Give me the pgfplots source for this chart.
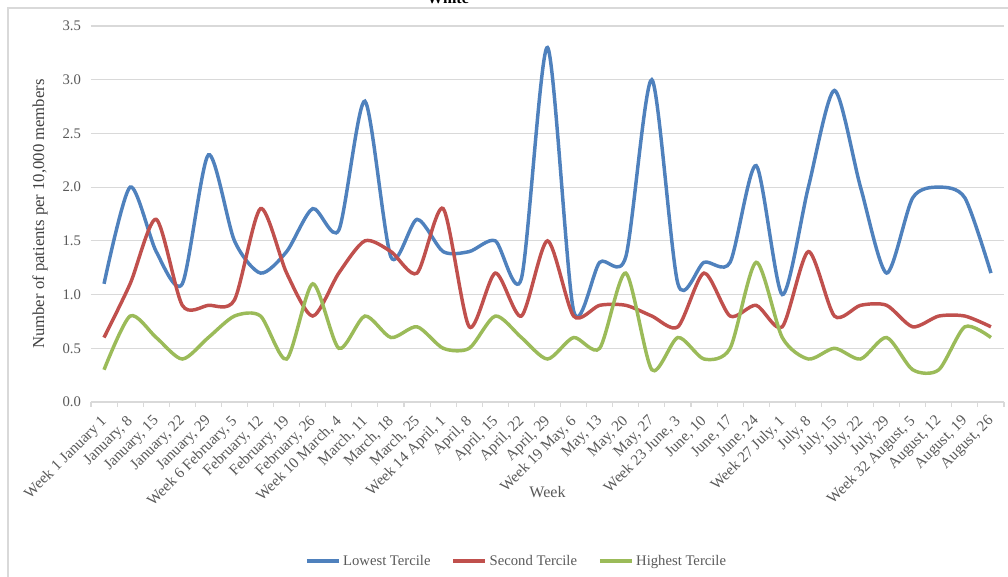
\documentclass[border=0pt]{standalone}
\usepackage{pgfplots}
\pgfplotsset{compat=1.18}
\usepackage{pgfplotstable}
\usepackage{fontspec}
\setmainfont{Liberation Serif}
\definecolor{cblue}{HTML}{4F81BD}
\definecolor{cred}{HTML}{C0504D}
\definecolor{cgreen}{HTML}{9BBB59}
\definecolor{gridc}{HTML}{D9D9D9}
\definecolor{txt}{HTML}{595959}

\pgfplotstableread{
i low sec high
0 1.1 0.6 0.3
1 2.0 1.1 0.8
2 1.4 1.7 0.6
3 1.1 0.9 0.4
4 2.3 0.9 0.6
5 1.5 0.95 0.8
6 1.2 1.8 0.8
7 1.4 1.2 0.4
8 1.8 0.8 1.1
9 1.6 1.2 0.5
10 2.8 1.5 0.8
11 1.35 1.4 0.6
12 1.7 1.2 0.7
13 1.4 1.8 0.5
14 1.4 0.7 0.5
15 1.5 1.2 0.8
16 1.15 0.8 0.6
17 3.3 1.5 0.4
18 0.85 0.8 0.6
19 1.3 0.9 0.5
20 1.35 0.9 1.2
21 3.0 0.8 0.3
22 1.1 0.7 0.6
23 1.3 1.2 0.4
24 1.3 0.8 0.5
25 2.2 0.9 1.3
26 1.0 0.7 0.6
27 2.0 1.4 0.4
28 2.9 0.8 0.5
29 2.0 0.9 0.4
30 1.2 0.9 0.6
31 1.9 0.7 0.3
32 2.0 0.8 0.3
33 1.9 0.8 0.7
34 1.2 0.7 0.6
}\datatable

\begin{document}
\begin{tikzpicture}
\useasboundingbox (0,0) rectangle (756pt,432.75pt);
\draw[gridc, line width=0.9pt] (6pt,-5pt) -- (6pt,426.75pt) -- (765pt,426.75pt);
\node[font=\bfseries\fontsize{12}{14}\selectfont, anchor=base] at (336pt,429.75pt) {White};
\begin{axis}[
  at={(68.25pt,131.25pt)}, anchor=south west,
  width=684.75pt, height=282pt, scale only axis,
  xmin=-0.5, xmax=34.5, ymin=0, ymax=3.5,
  axis lines*=left,
  axis line style={-},
  y axis line style={draw=none},
  x axis line style={gridc, line width=1.2pt},
  ytick={0,0.5,1,1.5,2,2.5,3,3.5},
  yticklabels={0.0,0.5,1.0,1.5,2.0,2.5,3.0,3.5},
  yticklabel style={font=\fontsize{11}{13}\selectfont, text=txt, xshift=-4pt},
  ymajorgrids, grid style={gridc, line width=0.8pt},
  major tick length=0pt,
  xtick={0,...,34},
  xticklabels={Week 1 January 1, {January, 8}, {January, 15}, {January, 22}, {January, 29},
    {Week 6 February, 5}, {February, 12}, {February, 19}, {February, 26},
    {Week 10 March, 4}, {March, 11}, {March, 18}, {March, 25},
    {Week 14 April, 1}, {April, 8}, {April, 15}, {April, 22}, {April, 29},
    {Week 19 May, 6}, {May, 13}, {May, 20}, {May, 27},
    {Week 23 June, 3}, {June, 10}, {June, 17}, {June, 24},
    {Week 27 July, 1}, {July, 8}, {July, 15}, {July, 22}, {July, 29},
    {Week 32 August, 5}, {August, 12}, {August, 19}, {August, 26}},
  xticklabel style={xshift=-3.3pt, yshift=-7.6pt, rotate=45, anchor=north east, font=\fontsize{11.5}{13}\selectfont, text=txt, inner sep=1pt},
  minor xtick={-0.5,0.5,...,34.5},
  minor tick length=3.75pt,
  tick align=outside,
  minor tick style={gridc, line width=0.8pt},
  xlabel={Week},
  xlabel style={at={(axis description cs:0.5,-0.239)}, anchor=center, font=\fontsize{12}{14}\selectfont, text=txt},
  ylabel={Number of patients per 10,000 members},
  ylabel style={at={(axis description cs:-0.0559,0.5)}, anchor=center, rotate=0, font=\fontsize{12.5}{14}\selectfont, text=black!75},
  legend style={at={(axis description cs:0.4666,-0.423)}, anchor=center, draw=none, fill=none,
    font=\fontsize{11}{13}\selectfont, text=txt, legend columns=3,
    /tikz/every even column/.append style={column sep=14pt}},
  legend image code/.code={\draw[#1, line width=2.4pt] (0pt,0pt) -- (24pt,0pt);},
  clip=false,
]
\addplot[cblue, line width=2.6pt, smooth, tension=0.45, no markers] table[x=i, y=low] {\datatable};
\addlegendentry{Lowest Tercile}
\addplot[cred, line width=2.6pt, smooth, tension=0.45, no markers] table[x=i, y=sec] {\datatable};
\addlegendentry{Second Tercile}
\addplot[cgreen, line width=2.6pt, smooth, tension=0.45, no markers] table[x=i, y=high] {\datatable};
\addlegendentry{Highest Tercile}
\end{axis}
\end{tikzpicture}
\end{document}
